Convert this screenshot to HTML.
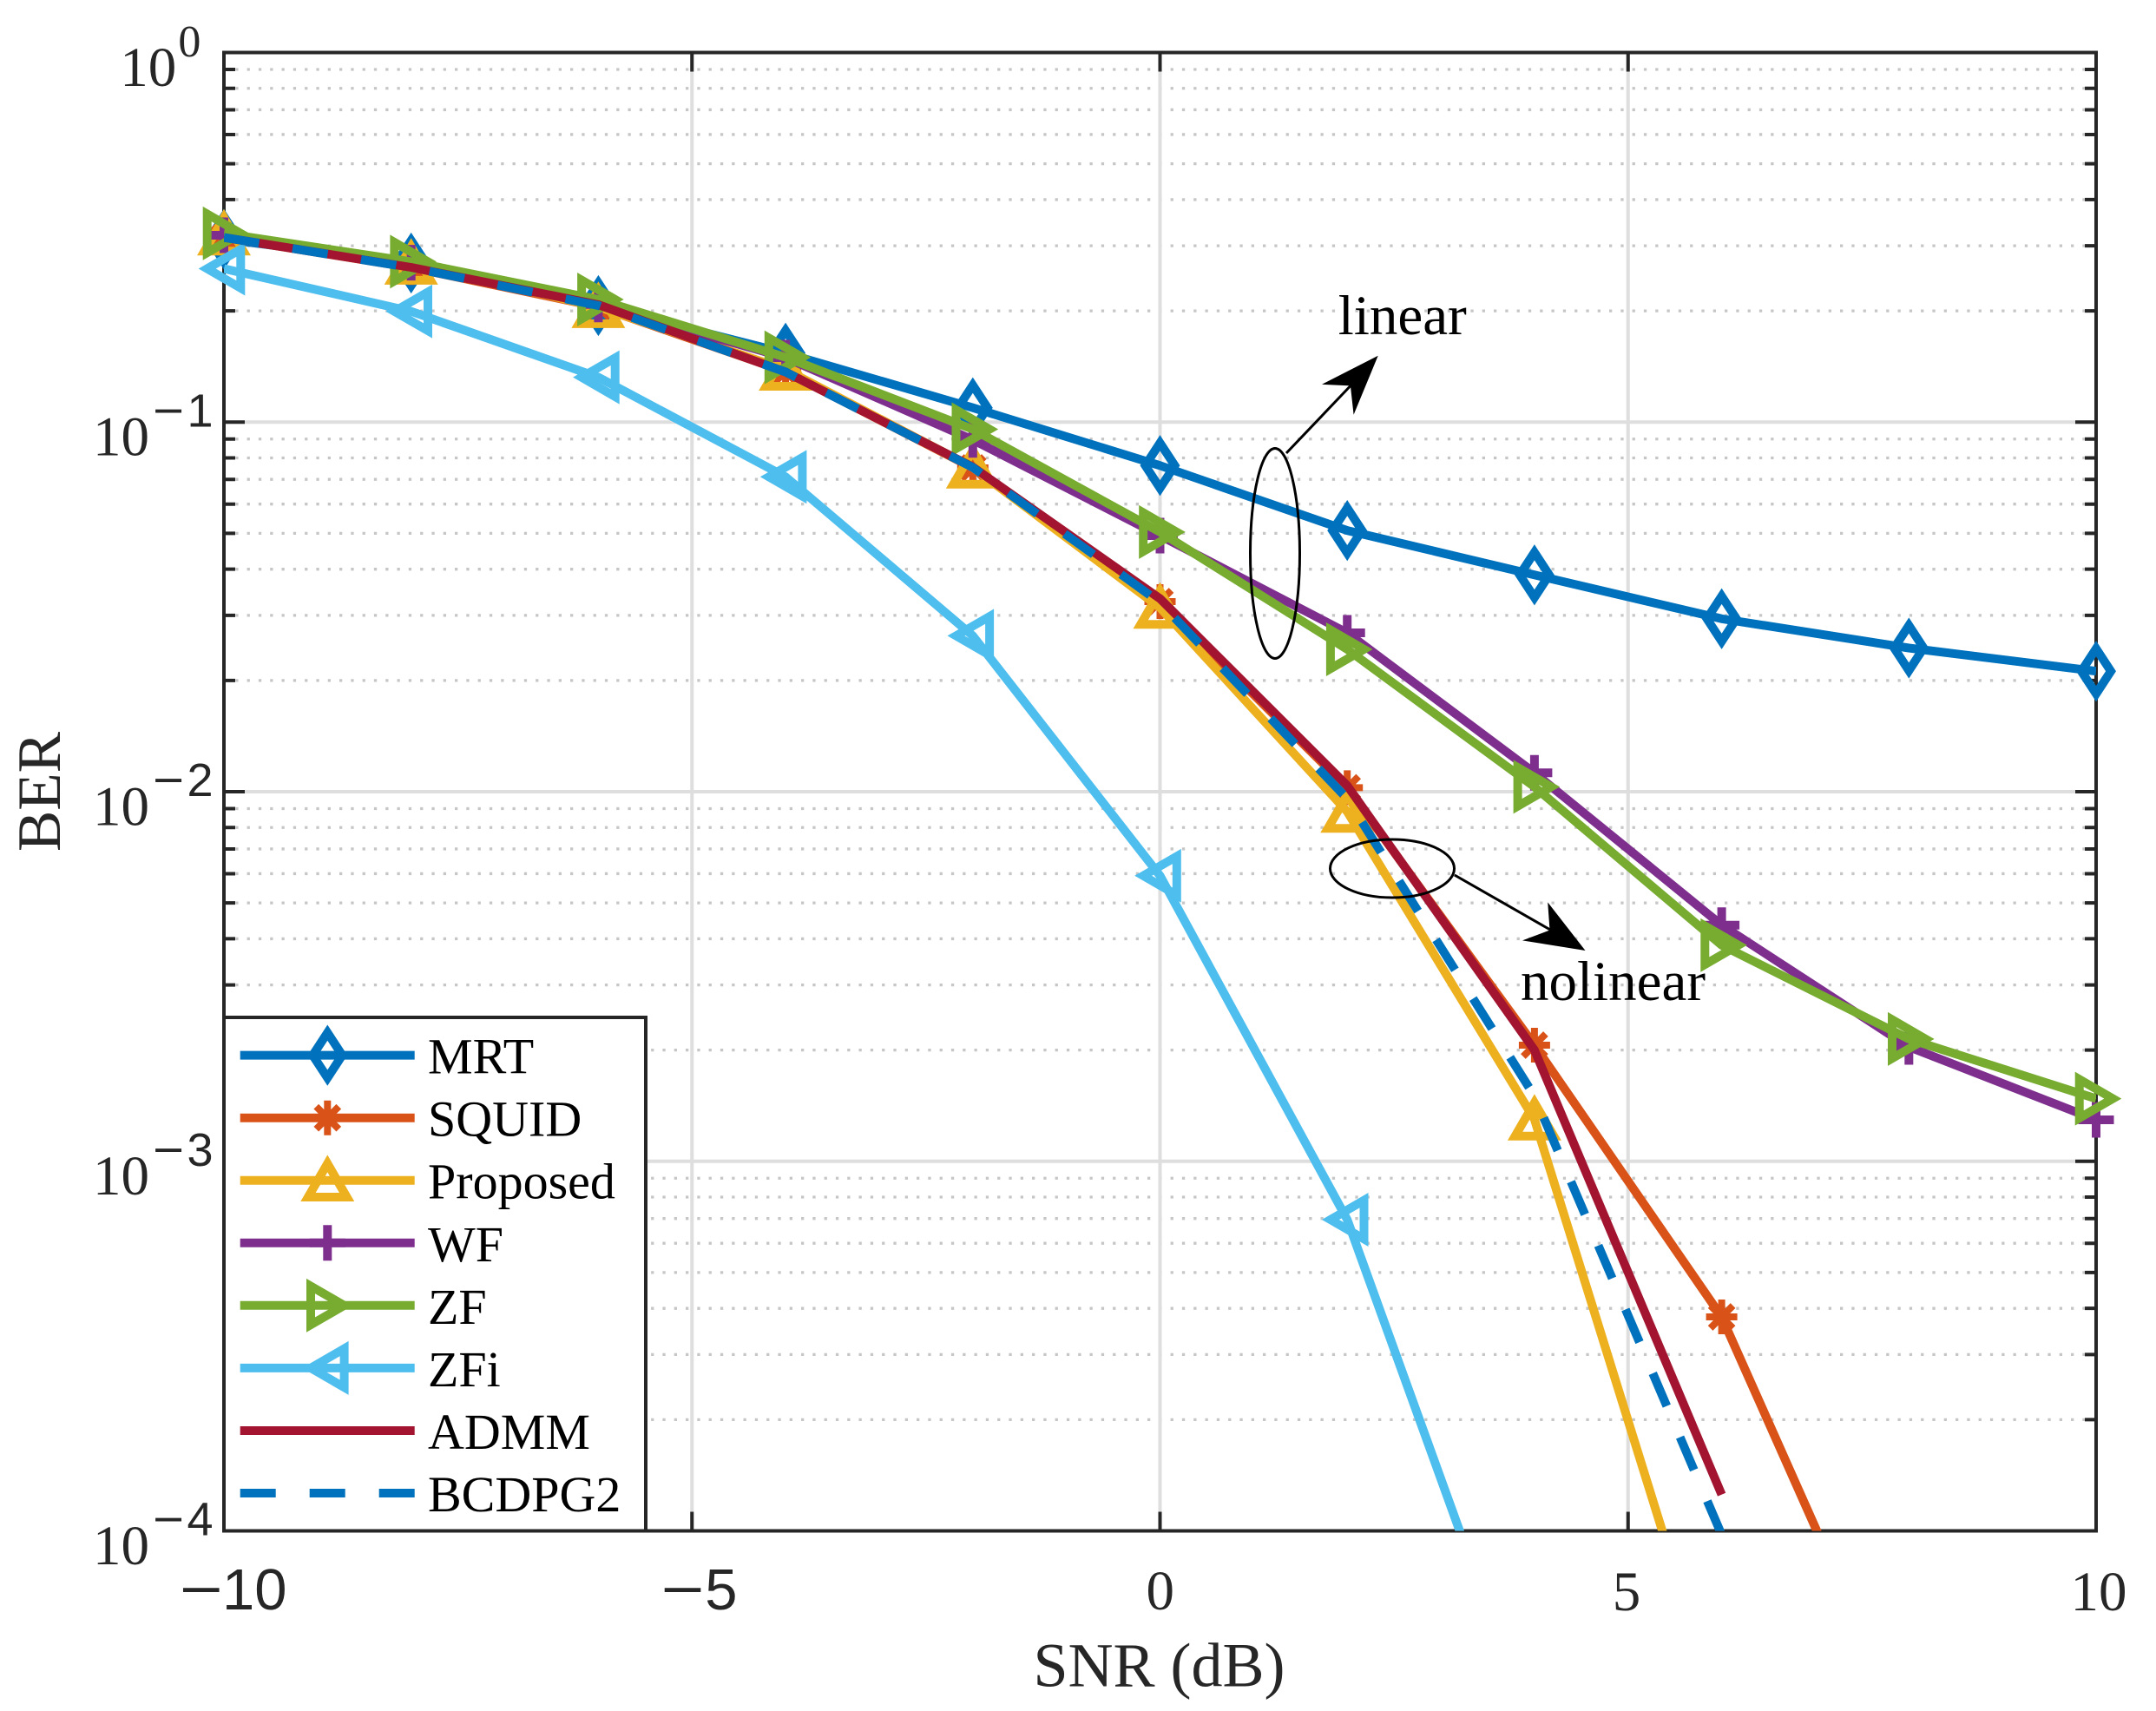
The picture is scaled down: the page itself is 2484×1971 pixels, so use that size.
<!DOCTYPE html>
<html><head><meta charset="utf-8"><style>
html,body{margin:0;padding:0;background:#fff;}
svg{display:block;}
text{font-family:"Liberation Serif",serif;}
.sans{font-family:"Liberation Sans",sans-serif;}
</style></head><body>
<svg width="2484" height="1971" viewBox="0 0 2484 1971" xmlns="http://www.w3.org/2000/svg">
<defs>
<clipPath id="ax"><rect x="258" y="60.5" width="2157" height="1703"/></clipPath>
<path id="mD" d="M0,-26L17,0L0,26L-17,0Z"/>
<path id="mU" d="M0,-19.3L22.3,19.3L-22.3,19.3Z"/>
<path id="mR" d="M19.3,0L-19.3,-22.3L-19.3,22.3Z"/>
<path id="mL" d="M-19.3,0L19.3,-22.3L19.3,22.3Z"/>
<path id="mP" d="M-20.5,0H20.5M0,-20.5V20.5"/>
<path id="mA" d="M-18,0H18M0,-20V20M-13,-13L13,13M-13,13L13,-13"/>
</defs>
<rect width="2484" height="1971" fill="#fff"/>

<!-- minor grid -->
<path fill="none" stroke="#c6c6c6" stroke-width="3.3" stroke-dasharray="3.3 10" d="
M258,79.98H2415M258,101.76H2415M258,126.45H2415M258,154.95H2415M258,188.66H2415M258,229.92H2415M258,283.11H2415M258,358.09H2415
M258,505.73H2415M258,527.51H2415M258,552.2H2415M258,580.7H2415M258,614.41H2415M258,655.67H2415M258,708.86H2415M258,783.84H2415
M258,931.48H2415M258,953.26H2415M258,977.95H2415M258,1006.45H2415M258,1040.16H2415M258,1081.42H2415M258,1134.61H2415M258,1209.59H2415
M258,1357.23H2415M258,1379.01H2415M258,1403.7H2415M258,1432.2H2415M258,1465.91H2415M258,1507.17H2415M258,1560.36H2415M258,1635.34H2415"/>
<!-- major grid -->
<path fill="none" stroke="#dedede" stroke-width="4" d="M258,486.25H2415M258,912H2415M258,1337.75H2415M797.25,60.5V1763.5M1336.5,60.5V1763.5M1875.75,60.5V1763.5"/>

<!-- axes box and ticks -->
<g stroke="#262626" fill="none" stroke-width="4">
<rect x="258" y="60.5" width="2157" height="1703"/>
<path d="M258,60.5H282M258,486.25H282M258,912H282M258,1337.75H282M258,1763.5H282
M2415,60.5H2391M2415,486.25H2391M2415,912H2391M2415,1337.75H2391M2415,1763.5H2391
M797.25,1763.5V1741.5M1336.5,1763.5V1741.5M1875.75,1763.5V1741.5
M797.25,60.5V82.5M1336.5,60.5V82.5M1875.75,60.5V82.5"/>
<path d="
M258,79.98H271M258,101.76H271M258,126.45H271M258,154.95H271M258,188.66H271M258,229.92H271M258,283.11H271M258,358.09H271
M258,505.73H271M258,527.51H271M258,552.2H271M258,580.7H271M258,614.41H271M258,655.67H271M258,708.86H271M258,783.84H271
M258,931.48H271M258,953.26H271M258,977.95H271M258,1006.45H271M258,1040.16H271M258,1081.42H271M258,1134.61H271M258,1209.59H271
M258,1357.23H271M258,1379.01H271M258,1403.7H271M258,1432.2H271M258,1465.91H271M258,1507.17H271M258,1560.36H271M258,1635.34H271
M2415,79.98H2402M2415,101.76H2402M2415,126.45H2402M2415,154.95H2402M2415,188.66H2402M2415,229.92H2402M2415,283.11H2402M2415,358.09H2402
M2415,505.73H2402M2415,527.51H2402M2415,552.2H2402M2415,580.7H2402M2415,614.41H2402M2415,655.67H2402M2415,708.86H2402M2415,783.84H2402
M2415,931.48H2402M2415,953.26H2402M2415,977.95H2402M2415,1006.45H2402M2415,1040.16H2402M2415,1081.42H2402M2415,1134.61H2402M2415,1209.59H2402
M2415,1357.23H2402M2415,1379.01H2402M2415,1403.7H2402M2415,1432.2H2402M2415,1465.91H2402M2415,1507.17H2402M2415,1560.36H2402M2415,1635.34H2402"/>
</g>

<!-- y tick labels -->
<g fill="#262626">
<text x="138.2" y="98.8" font-size="65">10</text>
<text x="205.4" y="65" font-size="52">0</text>
<text x="107" y="524.6" font-size="65">10</text>
<text class="sans" x="176" y="491.3" font-size="54" textLength="36" lengthAdjust="spacingAndGlyphs">−</text>
<text class="sans" x="215.5" y="491.3" font-size="54">1</text>
<text x="107" y="950.3" font-size="65">10</text>
<text class="sans" x="176" y="917" font-size="54" textLength="36" lengthAdjust="spacingAndGlyphs">−</text>
<text class="sans" x="215.5" y="917" font-size="54">2</text>
<text x="107" y="1376" font-size="65">10</text>
<text class="sans" x="176" y="1342.8" font-size="54" textLength="36" lengthAdjust="spacingAndGlyphs">−</text>
<text class="sans" x="215.5" y="1342.8" font-size="54">3</text>
<text x="107" y="1801.8" font-size="65">10</text>
<text class="sans" x="176" y="1768.5" font-size="54" textLength="36" lengthAdjust="spacingAndGlyphs">−</text>
<text class="sans" x="215.5" y="1768.5" font-size="54">4</text>
</g>
<!-- x tick labels -->
<g fill="#262626">
<text class="sans" x="206.7" y="1854" font-size="67" textLength="50" lengthAdjust="spacingAndGlyphs">−</text>
<text class="sans" x="256" y="1854" font-size="67">10</text>
<text class="sans" x="761.4" y="1854" font-size="67" textLength="50" lengthAdjust="spacingAndGlyphs">−</text>
<text class="sans" x="812.2" y="1854" font-size="67">5</text>
<text x="1336.7" y="1854" font-size="65" text-anchor="middle">0</text>
<text x="1874" y="1855" font-size="65" text-anchor="middle">5</text>
<text x="2418" y="1855" font-size="65" text-anchor="middle">10</text>
</g>
<!-- axis labels -->
<text x="1335.5" y="1942.7" font-size="72" text-anchor="middle" fill="#262626">SNR (dB)</text>
<text x="69" y="912" font-size="71" text-anchor="middle" fill="#262626" transform="rotate(-90 69 912)">BER</text>

<!-- series -->
<g stroke-width="10" fill="none" stroke-linejoin="round">
<!-- MRT -->
<g stroke="#0072BD">
<polyline clip-path="url(#ax)" points="258,275.5 473.7,303 689.4,352 905.1,406.8 1120.8,469.7 1336.5,536.3 1552.2,611.1 1767.9,662.3 1983.6,712.8 2199.3,746.5 2415,773.2"/>
<g stroke-linejoin="miter" stroke-miterlimit="10">
<use href="#mD" x="258" y="275.5"/><use href="#mD" x="473.7" y="303"/><use href="#mD" x="689.4" y="352"/><use href="#mD" x="905.1" y="406.8"/><use href="#mD" x="1120.8" y="469.7"/><use href="#mD" x="1336.5" y="536.3"/><use href="#mD" x="1552.2" y="611.1"/><use href="#mD" x="1767.9" y="662.3"/><use href="#mD" x="1983.6" y="712.8"/><use href="#mD" x="2199.3" y="746.5"/><use href="#mD" x="2415" y="773.2"/>
</g></g>
<!-- SQUID -->
<g stroke="#D95319">
<polyline clip-path="url(#ax)" points="258,273.5 473.7,308.2 689.4,353.5 905.1,428.1 1120.8,539 1336.5,693 1552.2,907.4 1767.9,1204 1983.6,1517 2199.3,2002"/>
<g stroke-width="8">
<use href="#mA" x="258" y="273.5"/><use href="#mA" x="473.7" y="308.2"/><use href="#mA" x="689.4" y="353.5"/><use href="#mA" x="905.1" y="428.1"/><use href="#mA" x="1120.8" y="539"/><use href="#mA" x="1336.5" y="693"/><use href="#mA" x="1552.2" y="907.4"/><use href="#mA" x="1767.9" y="1204"/><use href="#mA" x="1983.6" y="1517"/>
</g></g>
<!-- Proposed -->
<g stroke="#EDB120">
<polyline clip-path="url(#ax)" points="258,270 473.7,303.6 689.4,353.6 905.1,425.7 1120.8,538.5 1336.5,700 1552.2,935 1767.9,1289.5 1983.6,1983.6"/>
<g stroke-linejoin="miter" stroke-miterlimit="10">
<use href="#mU" x="258" y="270"/><use href="#mU" x="473.7" y="303.6"/><use href="#mU" x="689.4" y="353.6"/><use href="#mU" x="905.1" y="425.7"/><use href="#mU" x="1120.8" y="538.5"/><use href="#mU" x="1336.5" y="700"/><use href="#mU" x="1552.2" y="935"/><use href="#mU" x="1767.9" y="1289.5"/>
</g></g>
<!-- WF -->
<g stroke="#7E2F8E">
<polyline clip-path="url(#ax)" points="258,271 473.7,302.6 689.4,350.8 905.1,412 1120.8,506.7 1336.5,617 1552.2,729 1767.9,890.3 1983.6,1065.7 2199.3,1206 2415,1290"/>
<use href="#mP" x="258" y="271"/><use href="#mP" x="473.7" y="302.6"/><use href="#mP" x="689.4" y="350.8"/><use href="#mP" x="905.1" y="412"/><use href="#mP" x="1120.8" y="506.7"/><use href="#mP" x="1336.5" y="617"/><use href="#mP" x="1552.2" y="729"/><use href="#mP" x="1767.9" y="890.3"/><use href="#mP" x="1983.6" y="1065.7"/><use href="#mP" x="2199.3" y="1206"/><use href="#mP" x="2415" y="1290"/>
</g>
<!-- ZF -->
<g stroke="#77AC30">
<polyline clip-path="url(#ax)" points="258,268.8 473.7,301.4 689.4,345 905.1,411.6 1120.8,494.5 1336.5,612.9 1552.2,748 1767.9,906.4 1983.6,1088.8 2199.3,1196.9 2415,1265.6"/>
<g stroke-linejoin="miter" stroke-miterlimit="10">
<use href="#mR" x="258" y="268.8"/><use href="#mR" x="473.7" y="301.4"/><use href="#mR" x="689.4" y="345"/><use href="#mR" x="905.1" y="411.6"/><use href="#mR" x="1120.8" y="494.5"/><use href="#mR" x="1336.5" y="612.9"/><use href="#mR" x="1552.2" y="748"/><use href="#mR" x="1767.9" y="906.4"/><use href="#mR" x="1983.6" y="1088.8"/><use href="#mR" x="2199.3" y="1196.9"/><use href="#mR" x="2415" y="1265.6"/>
</g></g>
<!-- ZFi -->
<g stroke="#4DBEEE">
<polyline clip-path="url(#ax)" points="258,309.5 473.7,358.7 689.4,434.6 905.1,549.3 1120.8,732.4 1336.5,1008.8 1552.2,1405 1767.9,2002"/>
<g stroke-linejoin="miter" stroke-miterlimit="10">
<use href="#mL" x="258" y="309.5"/><use href="#mL" x="473.7" y="358.7"/><use href="#mL" x="689.4" y="434.6"/><use href="#mL" x="905.1" y="549.3"/><use href="#mL" x="1120.8" y="732.4"/><use href="#mL" x="1336.5" y="1008.8"/><use href="#mL" x="1552.2" y="1405"/>
</g></g>
<!-- ADMM -->
<polyline stroke="#A2142F" clip-path="url(#ax)" points="258,273.5 473.7,308 689.4,351 905.1,428.5 1120.8,538 1336.5,689.6 1552.2,905 1767.9,1209.7 1983.6,1721.7"/>
<!-- BCDPG2 -->
<polyline stroke="#0072BD" stroke-dasharray="41 39" clip-path="url(#ax)" points="258,273.5 473.7,308.3 689.4,352 905.1,428.5 1120.8,538.5 1336.5,694 1552.2,920 1767.9,1262.6 1983.6,1768"/>
</g>

<!-- annotations -->
<g stroke="#000" stroke-width="3" fill="none">
<ellipse cx="1469" cy="637.5" rx="28.5" ry="121"/>
<ellipse cx="1604" cy="1000.5" rx="71.5" ry="33.5"/>
<path d="M1482,522L1556,444.4"/>
<path d="M1675.8,1008L1786,1071"/>
</g>
<polygon fill="#000" points="1587.7,409.8 1523,442.8 1555.9,444.4 1559.6,477.8"/>
<polygon fill="#000" points="1826.5,1095 1783.2,1039.4 1785.5,1071.5 1754,1083.4"/>
<text x="1541.8" y="385" font-size="65" fill="#000">linear</text>
<text x="1752" y="1152" font-size="65" fill="#000">nolinear</text>

<!-- legend -->
<rect x="258" y="1172" width="486" height="591.5" fill="#fff" stroke="#262626" stroke-width="4"/>
<g stroke-width="10" fill="none">
<g stroke="#0072BD"><path d="M276.7,1215.6H477.7"/><use href="#mD" x="377.3" y="1215.6" stroke-linejoin="miter"/></g>
<g stroke="#D95319"><path d="M276.7,1287.7H477.7"/><use href="#mA" x="377.3" y="1287.7" stroke-width="8"/></g>
<g stroke="#EDB120"><path d="M276.7,1359.7H477.7"/><use href="#mU" x="377.3" y="1359.7" stroke-linejoin="miter"/></g>
<g stroke="#7E2F8E"><path d="M276.7,1431.8H477.7"/><use href="#mP" x="377.3" y="1431.8"/></g>
<g stroke="#77AC30"><path d="M276.7,1503.8H477.7"/><use href="#mR" x="377.3" y="1503.8" stroke-linejoin="miter"/></g>
<g stroke="#4DBEEE"><path d="M276.7,1575.9H477.7"/><use href="#mL" x="377.3" y="1575.9" stroke-linejoin="miter"/></g>
<path stroke="#A2142F" d="M276.7,1648H477.7"/>
<path stroke="#0072BD" stroke-dasharray="41 39" d="M276.7,1720H477.7"/>
</g>
<g fill="#000" font-size="58">
<text x="493" y="1236.6">MRT</text>
<text x="493" y="1308.7">SQUID</text>
<text x="493" y="1380.7">Proposed</text>
<text x="493" y="1452.8">WF</text>
<text x="493" y="1524.8">ZF</text>
<text x="493" y="1596.9">ZFi</text>
<text x="493" y="1669">ADMM</text>
<text x="493" y="1741">BCDPG2</text>
</g>
</svg>
</body></html>
